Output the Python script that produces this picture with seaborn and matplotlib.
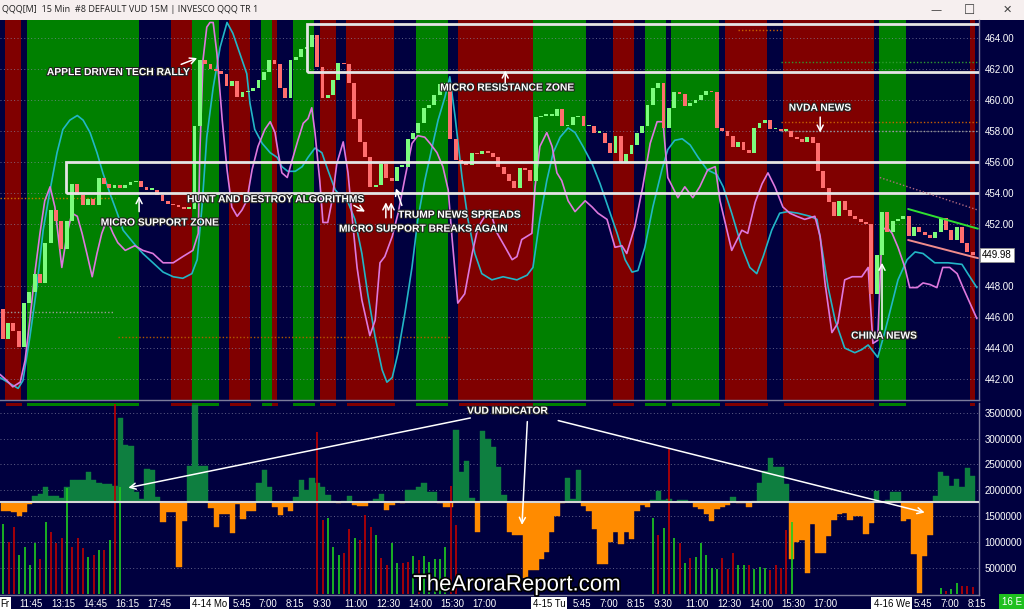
import numpy as np
import pandas as pd
import matplotlib
matplotlib.use("Agg")
import matplotlib.pyplot as plt
import matplotlib.transforms as mtrans
import matplotlib.patheffects as pe
from matplotlib.patches import Rectangle
import seaborn as sns

# ---------------- data ----------------
# 15-minute closes, one list per session
fri_close = [444.6, 445.6, 445.1, 444.1, 446.9, 447.6, 448.8, 448.2, 450.8, 452.9,
             452.2, 450.4, 452.2, 454.6, 453.9, 453.2, 453.6, 453.2, 455.0, 454.6,
             454.3, 454.5, 454.3, 454.5, 454.7, 454.8, 454.4, 454.2, 454.2, 453.9,
             453.5, 453.3, 453.2, 453.1, 453.0, 453.0]
mon_close = [458.3, 462.6, 462.3, 462.0, 461.9, 461.7, 460.9, 461.2, 460.2, 460.5,
             460.6, 460.8, 461.3, 461.8, 462.6, 462.3, 460.8, 460.1, 462.6, 462.8,
             463.3, 463.4, 464.2, 462.1, 460.1, 460.3, 461.3, 462.4, 462.3, 461.1,
             458.8, 457.3, 456.3, 454.4, 454.5, 455.9, 455.0, 454.8, 455.7, 455.7,
             457.5, 457.9, 458.5, 459.5, 459.7, 460.3, 461.0, 461.0, 457.5, 456.1,
             456.0, 455.8, 456.6, 456.5, 456.7, 456.6, 456.3, 455.7, 455.2, 454.8,
             454.3, 455.6, 455.5, 454.8]
tue_close = [458.9, 459.0, 459.0, 459.0, 459.4, 458.3, 458.4, 458.9, 459.0, 458.3,
             458.3, 457.9, 457.9, 457.2, 456.6, 457.7, 456.0, 456.5, 457.1, 457.9,
             458.3, 459.7, 460.8, 461.1, 458.2, 459.5, 460.5, 460.4, 459.6, 459.8,
             460.0, 460.3, 460.6, 460.5, 458.2, 458.0, 457.7, 457.0, 457.3, 456.8,
             456.6, 458.2, 458.5, 458.7, 458.1, 458.1, 458.0, 458.0, 457.6, 457.5,
             457.3, 457.6, 457.2, 455.4, 454.3, 453.4, 452.5, 453.5, 452.9, 452.5,
             452.3, 452.1, 452.0, 447.5]
wed_close = [450.0, 452.8, 451.5, 452.2, 452.3, 452.5, 451.2, 451.8, 451.5, 451.3,
             451.1, 451.5, 452.4, 451.6, 451.0, 451.8, 450.8, 450.2, 449.98]
first_open = 446.5
last_price = 449.98

# VUD indicator (millions)
fri_vud = [1.60, 1.60, 1.58, 1.50, 1.58, 1.73, 1.88, 1.92, 2.06, 1.88,
           1.89, 1.85, 2.06, 2.19, 2.19, 2.19, 2.35, 2.19, 2.15, 2.12,
           2.12, 2.08, 3.40, 2.88, 2.85, 1.96, 1.83, 2.42, 2.40, 1.87,
           1.38, 1.58, 1.58, 0.52, 1.40, 2.48]
mon_vud = [3.65, 2.48, 2.48, 1.65, 1.29, 1.54, 1.54, 1.17, 1.73, 1.44,
           1.60, 1.60, 2.15, 2.40, 2.06, 1.67, 1.52, 1.68, 1.60, 1.87,
           2.19, 2.00, 2.23, 2.15, 2.06, 1.90, 1.80, 1.76, 1.79, 1.88,
           1.72, 1.70, 1.70, 1.79, 1.83, 1.92, 1.62, 1.72, 1.80, 1.76,
           2.00, 2.00, 2.06, 2.15, 1.96, 1.96, 1.76, 1.67, 1.67, 3.17,
           2.35, 2.56, 1.86, 1.20, 3.15, 3.00, 2.83, 2.46, 1.90, 1.20,
           1.13, 1.13, 0.30, 0.45]
tue_vud = [0.45, 0.67, 0.81, 1.20, 1.50, 1.76, 2.23, 1.83, 2.40, 1.70,
           1.59, 1.25, 0.58, 0.58, 1.00, 1.19, 0.96, 1.20, 1.06, 1.60,
           1.71, 1.67, 1.81, 1.98, 1.82, 1.84, 1.77, 1.82, 1.81, 1.77,
           1.67, 1.63, 1.55, 1.40, 1.63, 1.67, 1.71, 1.87, 1.75, 1.75,
           1.67, 1.80, 2.15, 2.37, 2.63, 2.45, 2.45, 2.12, 0.67, 1.00,
           1.04, 0.40, 1.35, 0.78, 0.78, 1.12, 1.43, 1.54, 1.56, 1.43,
           1.50, 1.50, 1.15, 1.37]
wed_vud = [1.98, 1.77, 1.81, 1.96, 1.96, 1.40, 1.45, 0.77, 0.02, 0.73,
           1.13, 1.88, 2.35, 2.27, 2.08, 2.21, 2.06, 2.44, 2.27]
vud_base = 1.78

# volume spikes (bar index, millions, up?)
vol_idx = [0, 1, 2, 3, 4, 5, 6, 7, 8, 9, 10, 11, 12, 13, 14, 15, 16, 17, 18, 19, 20, 21, 22,
           59, 60, 61, 62, 63, 64, 65, 66, 67, 68, 69, 70, 71, 72, 73, 74, 75, 76, 77, 78,
           79, 80, 81, 82, 83, 84, 85,
           122, 123, 124, 125, 126, 127, 128, 129, 130, 131, 132, 133, 134, 135, 136, 137,
           138, 139, 140, 141, 142, 143, 144, 145, 146, 147, 148,
           176, 177, 178, 179, 180, 181, 182]
vol_val = [1.35, 1.00, 1.29, 0.75, 0.90, 0.56, 0.98, 0.67, 1.38, 1.19, 0.98, 1.08, 2.04,
           0.90, 1.08, 0.88, 0.71, 0.75, 0.85, 0.85, 1.04, 3.67, 2.06,
           3.12, 1.42, 1.46, 0.90, 0.75, 0.79, 1.25, 1.08, 1.04, 1.52, 1.29, 1.13, 0.69,
           0.56, 0.98, 0.60, 0.60, 0.62, 0.73, 0.65, 0.73, 0.62, 0.67, 0.67, 0.90, 2.08, 1.33,
           1.46, 1.13, 1.27, 2.80, 1.08, 0.98, 0.60, 0.69, 0.71, 0.98, 0.75, 0.50, 0.48,
           0.69, 0.48, 0.79, 0.56, 0.56, 0.56, 0.48, 0.52, 0.50, 0.46, 0.56, 0.50, 1.23, 1.38,
           0.10, 0.06, 0.08, 0.20, 0.15, 0.15, 0.12]
vol_up = [1, 0, 0, 1, 1, 1, 1, 0, 1, 0, 0, 0, 1, 0, 0, 0, 1, 0, 1, 0, 1, 0, 1,
          0, 0, 1, 1, 1, 0, 0, 1, 0, 0, 0, 1, 0, 0, 1, 1, 0, 0, 1, 0, 1, 1, 1, 1, 1, 0, 0,
          1, 0, 1, 0, 1, 0, 1, 0, 1, 1, 1, 1, 1, 0, 0, 0, 1, 1, 0, 1, 1, 1, 0, 0, 0, 0, 1,
          1, 0, 1, 1, 0, 0, 0]

# oscillators drawn over the price pane (bar position, value in price units)
mag_x = [-0.5, 0.8, 1.9, 3.3, 4.2, 5.1, 6.1, 7.0, 7.9, 8.9, 9.8, 11.1, 12.1, 13.0, 14.0,
         14.9, 15.8, 16.8, 17.7, 18.6, 19.6, 20.7, 21.6, 23.0, 24.8, 26.3, 28.2, 30.1,
         32.0, 33.8, 35.7, 36.7, 37.0, 37.6, 38.3, 38.9, 39.5, 40.2, 41.2, 42.1, 43.0,
         44.0, 44.9, 45.8, 46.8, 47.9, 49.2, 50.2, 51.1, 51.7, 52.4, 53.4, 54.3, 55.4,
         56.4, 57.3, 58.0, 58.6, 59.5, 60.1, 61.0, 61.8, 62.7, 63.9, 64.8, 65.5, 66.5,
         67.4, 68.9, 69.9, 70.8, 71.7, 73.1, 74.2, 75.5, 76.8, 77.9, 79.2, 80.2, 81.5,
         82.6, 83.6, 84.3, 85.4, 86.7, 88.1, 89.2, 90.5, 91.4, 92.8, 94.3, 95.6, 96.5,
         97.4, 99.3, 99.9, 100.8, 102.1, 103.1, 104.0, 104.9, 106.1, 107.4, 109.3, 110.6,
         111.7, 113.4, 114.9, 116.2, 117.1, 118.6, 120.1, 121.5, 122.8, 123.9, 124.8,
         126.7, 128.0, 129.5, 130.8, 132.3, 133.7, 134.6, 135.9, 136.8, 138.7, 139.8,
         141.2, 142.5, 143.6, 144.9, 146.4, 147.7, 149.0, 150.5, 152.4, 153.4, 154.3,
         155.6, 156.7, 158.0, 159.4, 161.2, 162.4, 163.3, 164.2, 165.0, 165.9, 166.9,
         168.0, 169.3, 170.2, 171.6, 172.7, 174.0, 175.3, 176.4, 177.7, 179.1, 180.2,
         181.5, 182.8]
mag_v = [442.3, 441.9, 441.5, 441.8, 443.2, 445.8, 449.0, 451.4, 453.5, 454.4, 453.1,
         449.2, 451.4, 452.7, 452.5, 451.4, 450.1, 448.6, 450.1, 451.4, 452.3, 451.4,
         450.8, 450.3, 450.6, 450.3, 450.1, 449.5, 449.5, 449.9, 450.3, 451.4, 456.6,
         462.6, 464.7, 465.0, 465.0, 463.0, 458.7, 455.5, 453.1, 452.5, 452.9, 453.5,
         455.5, 457.0, 458.1, 458.6, 457.9, 456.6, 455.3, 455.0, 456.1, 457.4, 458.5,
         458.8, 459.5, 457.9, 454.8, 452.1, 452.1, 453.5, 455.9, 457.3, 455.3, 452.7,
         449.2, 447.1, 444.8, 445.8, 449.5, 449.9, 451.2, 452.7, 455.0, 457.2, 457.7,
         457.6, 457.2, 456.6, 455.7, 454.2, 451.2, 446.9, 447.5, 450.1, 451.8, 452.5,
         452.9, 451.4, 450.5, 449.7, 449.9, 451.0, 451.4, 454.4, 457.0, 457.9, 457.0,
         455.3, 454.8, 453.5, 452.8, 453.5, 453.1, 452.7, 452.3, 450.5, 450.6, 450.1,
         451.8, 454.4, 457.2, 458.6, 458.6, 455.0, 453.7, 454.4, 453.7, 454.4, 455.5,
         455.7, 453.5, 451.6, 450.3, 451.6, 451.4, 453.4, 454.6, 455.3, 454.4, 453.1,
         452.7, 452.5, 452.3, 452.5, 451.2, 448.2, 445.0, 445.6, 448.4, 448.6, 448.6,
         449.2, 444.3, 444.5, 451.6, 451.8, 451.4, 450.5, 449.2, 447.9, 447.9, 448.2,
         448.1, 447.9, 449.2, 449.2, 448.8, 447.9, 446.9, 445.9]
cyan_x = [-0.5, 1.4, 2.9, 3.8, 5.1, 6.4, 7.6, 8.9, 10.2, 11.3, 12.6, 14.0, 15.1, 16.4,
          17.7, 18.8, 20.1, 21.5, 22.6, 24.5, 26.3, 28.2, 30.1, 32.0, 33.8, 35.5, 36.5,
          37.4, 38.3, 39.5, 40.8, 42.1, 43.2, 44.5, 45.8, 46.4, 47.3, 48.7, 50.2, 51.5,
          52.4, 53.5, 54.9, 56.2, 57.3, 58.6, 59.9, 61.0, 62.4, 63.7, 64.8, 66.1, 67.4,
          68.5, 69.9, 71.2, 72.1, 73.1, 74.2, 75.5, 76.8, 77.9, 79.2, 80.6, 81.7, 83.0,
          83.9, 84.9, 86.2, 87.3, 88.6, 89.9, 91.8, 93.9, 96.5, 98.4, 99.5, 100.8, 102.1,
          103.3, 104.6, 106.1, 107.4, 108.9, 110.6, 112.1, 113.6, 115.3, 116.8, 118.1,
          119.2, 120.5, 122.0, 123.7, 124.8, 126.1, 127.5, 129.0, 130.5, 132.2, 134.0,
          135.2, 136.8, 138.7, 140.2, 141.5, 142.7, 144.3, 145.8, 147.3, 149.2, 151.5,
          152.8, 153.7, 154.9, 156.2, 158.0, 159.9, 161.2, 162.4, 164.2, 165.5, 166.9,
          168.0, 169.7, 171.2, 172.7, 174.9, 177.4, 180.0, 181.1, 182.8]
cyan_v = [442.1, 441.7, 441.4, 441.9, 444.7, 447.9, 451.6, 454.2, 456.6, 458.1, 458.7,
          459.0, 458.7, 457.9, 456.6, 455.3, 454.0, 452.7, 451.6, 450.8, 450.1, 449.5,
          448.9, 448.6, 448.5, 448.8, 449.7, 453.1, 457.6, 460.8, 463.4, 465.0, 464.3,
          463.0, 461.7, 459.8, 458.1, 457.2, 456.6, 456.3, 455.7, 455.4, 455.4, 455.7,
          456.3, 456.9, 456.6, 455.5, 454.2, 453.7, 453.4, 452.3, 450.1, 447.5, 444.7,
          442.6, 441.8, 442.1, 443.7, 446.3, 449.2, 452.3, 454.8, 457.0, 458.7, 460.2,
          461.5, 458.9, 455.0, 452.3, 450.1, 448.8, 448.4, 448.6, 448.4, 448.7, 449.2,
          452.3, 454.8, 456.6, 457.6, 458.2, 457.9, 457.0, 455.9, 454.6, 453.1, 451.4,
          449.7, 448.9, 449.0, 450.5, 453.1, 455.5, 456.8, 457.4, 457.5, 457.1, 456.3,
          455.5, 455.2, 454.4, 452.7, 450.5, 449.2, 448.8, 449.9, 451.6, 452.7, 452.8,
          452.7, 452.5, 452.3, 450.5, 447.9, 445.8, 444.0, 443.7, 443.9, 444.2, 443.4,
          445.0, 446.9, 448.4, 449.7, 450.2, 450.1, 449.5, 449.5, 449.4, 448.8, 447.9]

# background regime bands: start bar and colour code (n=navy, r=red, g=green)
band_start = [0, 1, 4, 5, 26, 32, 36, 41, 43, 47, 49, 51, 52, 55, 59, 60, 63, 65, 74,
              78, 84, 86, 100, 110, 115, 119, 121, 125, 126, 135, 136, 144, 147, 164,
              165, 170, 182]
band_code = ['n', 'r', 'n', 'g', 'n', 'r', 'g', 'n', 'r', 'n', 'g', 'r', 'n', 'g', 'n',
             'r', 'n', 'r', 'n', 'g', 'n', 'r', 'g', 'n', 'r', 'n', 'g', 'n', 'g', 'n',
             'r', 'n', 'r', 'n', 'g', 'n', 'r']

# zones (price levels) and their left edges (bars)
support_zone = (454.0, 456.0)
support_left = 11.9
resist_zone = (461.8, 464.9)
resist_left = 57.1

# dotted reference levels: (from bar, to bar, price, colour)
levels = [(-0.5, 21.0, 453.7, '#c87800'), (-0.5, 20.7, 446.3, '#9a9a9a'),
          (21.6, 84.0, 444.7, '#b05a00'), (146.0, 183.0, 462.45, '#2e9a2e'),
          (146.0, 183.0, 458.6, '#c86000'), (146.0, 183.0, 458.0, '#9a9a9a'),
          (138.0, 146.0, 464.5, '#c86000')]

# late channel lines (bar, price)
chan_green = ([169.9, 183.0], [452.97, 451.7])
chan_pink = ([169.9, 183.0], [450.97, 449.8])
chan_dotted = ([164.6, 183.0], [455.0, 452.9])

price_ticks = [442, 444, 446, 448, 452, 454, 456, 458, 460, 462, 464]
vud_ticks = [500000, 1000000, 1500000, 2000000, 2500000, 3000000, 3500000]

session_start = {'Fr': '11:00', '4-14 Mo': '4:00', '4-15 Tu': '4:00', '4-16 We': '4:00'}
session_labels = {'Fr': ['11:45', '13:15', '14:45', '16:15', '17:45'],
                  '4-14 Mo': ['5:45', '7:00', '8:15', '9:30', '11:00', '12:30', '14:00', '15:30', '17:00'],
                  '4-15 Tu': ['5:45', '7:00', '8:15', '9:30', '11:00', '12:30', '14:00', '15:30', '17:00'],
                  '4-16 We': ['5:45', '7:00', '8:15']}

# ---------------- build ----------------
close = np.array(fri_close + mon_close + tue_close + wed_close)
N = len(close)
xb = np.arange(N)
opn = np.r_[first_open, close[:-1]]
vud = np.array(fri_vud + mon_vud + tue_vud + wed_vud) * 1e6
base = vud_base * 1e6
day_len = [len(fri_close), len(mon_close), len(tue_close), len(wed_close)]
day_start = np.r_[0, np.cumsum(day_len)[:-1]]

sns.set_theme(style="dark")
NARROW = ['Liberation Sans Narrow', 'Liberation Sans', 'DejaVu Sans']
plt.rcParams['font.family'] = NARROW

NAVY = '#00003f'
BAND = {'n': NAVY, 'r': '#800000', 'g': '#008000'}
W, H = 1024, 609
fig = plt.figure(figsize=(W / 100, H / 100), dpi=100, facecolor=NAVY)


def fy(y):
    return 1 - y / H


axp = fig.add_axes([0, fy(400), 979 / W, (400 - 20) / H])
axv = fig.add_axes([0, fy(595), 979 / W, (595 - 403) / H])
for ax in (axp, axv):
    ax.set_facecolor(NAVY)
    ax.set_xlim(-0.5, N - 0.5 + 0.7)
    for s in ('top', 'left'):
        ax.spines[s].set_visible(False)
    for s in ('right', 'bottom'):
        ax.spines[s].set_color('#7c7c9c')
        ax.spines[s].set_linewidth(1.0)

TICK_FS = 7.0

# --- price pane ---
axp.set_ylim(440.65, 465.16)
ends = band_start[1:] + [N]
for s, e, c in zip(band_start, ends, band_code):
    axp.axvspan(s - 0.5, e - 0.5, color=BAND[c], lw=0, zorder=0)

axp.set_yticks(price_ticks)
axp.set_yticklabels([f"{t:.2f}" for t in price_ticks])
axp.yaxis.tick_right()
axp.tick_params(axis='y', length=0, pad=4, labelsize=TICK_FS, labelcolor='white')
axp.set_xticks([])
axp.grid(axis='y', color='#8a8aa6', ls=(0, (1, 2.5)), lw=0.7, alpha=0.7)
axp.grid(axis='x', visible=False)
axp.set_axisbelow(False)

for x0, x1, p, c in levels:
    axp.hlines(p, x0, x1, colors=c, linestyles=(0, (1, 1.5)), lw=1.0, zorder=2)

sns.lineplot(x=cyan_x, y=cyan_v, ax=axp, color='#22b6c6', lw=1.2, estimator=None,
             sort=False, zorder=3)
sns.lineplot(x=mag_x, y=mag_v, ax=axp, color='#de78de', lw=1.2, estimator=None,
             sort=False, zorder=3)

up = close >= opn
body_lo = np.minimum(opn, close)
body_h = np.maximum(np.abs(close - opn), 0.1)
axp.bar(xb, body_h, bottom=body_lo, width=0.72,
        color=np.where(up, '#7dfc7d', '#ff6e6e'), lw=0, zorder=4)

axp.add_patch(Rectangle((support_left, support_zone[0]), N + 10, support_zone[1] - support_zone[0],
                        fill=False, ec='#e4e4e4', lw=2.0, zorder=5))
axp.add_patch(Rectangle((resist_left, resist_zone[0]), N + 10, resist_zone[1] - resist_zone[0],
                        fill=False, ec='#e4e4e4', lw=2.0, zorder=5))
axp.plot(*chan_green, color='#30e030', lw=1.4, zorder=5)
axp.plot(*chan_pink, color='#f08c8c', lw=1.4, zorder=5)
axp.plot(*chan_dotted, color='#b06a80', lw=1.0, ls=(0, (1, 1.5)), zorder=5)

tr = mtrans.blended_transform_factory(axp.transAxes, axp.transData)
axp.text(1.003, last_price, f"{last_price:.2f}", transform=tr, ha='left', va='center',
         fontsize=TICK_FS, color='black', zorder=10, clip_on=False,
         bbox=dict(boxstyle='square,pad=0.2', fc='white', ec='#909090', lw=0.6))

stroke = [pe.withStroke(linewidth=1.5, foreground='#222222')]
txt_kw = dict(color='white', fontsize=7.4, fontweight='bold', va='center', ha='left',
              zorder=9, path_effects=stroke)
arr_kw = dict(arrowstyle='->,head_length=0.35,head_width=0.18', color='white', lw=1.1,
              shrinkA=0, shrinkB=0)


def note(ax, text, tx, ty):
    ax.text(tx, ty, text, **txt_kw)


def arrow(ax, x0, y0, x1, y1):
    ax.annotate('', xy=(x1, y1), xytext=(x0, y0), arrowprops=arr_kw, zorder=9)


note(axp, 'APPLE DRIVEN TECH RALLY', 8.3, 461.8)
arrow(axp, 33.5, 462.3, 36.5, 462.7)
note(axp, 'MICRO SUPPORT ZONE', 18.4, 452.1)
arrow(axp, 25.6, 452.8, 25.6, 453.8)
note(axp, 'HUNT AND DESTROY ALGORITHMS', 34.6, 453.6)
arrow(axp, 65.9, 453.2, 68.0, 452.8)
note(axp, 'TRUMP NEWS SPREADS', 74.2, 452.6)
arrow(axp, 74.9, 453.2, 73.8, 454.3)
note(axp, 'MICRO SUPPORT BREAKS AGAIN', 63.1, 451.7)
arrow(axp, 71.9, 452.4, 71.9, 453.4)
arrow(axp, 72.9, 452.4, 72.9, 453.4)
note(axp, 'MICRO RESISTANCE ZONE', 82.1, 460.8)
arrow(axp, 94.3, 461.1, 94.3, 461.9)
note(axp, 'NVDA NEWS', 147.5, 459.5)
arrow(axp, 153.4, 458.9, 153.4, 457.9)
note(axp, 'CHINA NEWS', 159.2, 444.8)
arrow(axp, 165.0, 445.2, 165.0, 449.5)

# --- VUD pane ---
axv.set_ylim(-27000, 3690000)
axv.set_yticks(vud_ticks)
axv.set_yticklabels([str(t) for t in vud_ticks])
axv.yaxis.tick_right()
axv.tick_params(axis='y', length=0, pad=4, labelsize=TICK_FS, labelcolor='white')
axv.grid(axis='y', color='#8a8aa6', ls=(0, (1, 2.5)), lw=0.7, alpha=0.7)
axv.grid(axis='x', visible=False)

for s, e, c in zip(band_start, ends, band_code):
    if c != 'n':
        axv.axvspan(s - 0.5, e - 0.5, ymin=0.982, ymax=1.0, color=BAND[c], lw=0, zorder=1)

pos = vud >= base
axv.bar(xb, vud - base, bottom=base, width=1.0,
        color=np.where(pos, '#0e7f40', '#ff8b00'),
        edgecolor=np.where(pos, '#0e7f40', '#ff8b00'), lw=0.3, zorder=2)
vcol = ['#1fcf1f' if u else '#c00000' for u in vol_up]
axv.vlines(vol_idx, 0, np.array(vol_val) * 1e6, colors=vcol, lw=1.2, zorder=3)
axv.axhline(base, color='#d6d6d6', lw=1.5, zorder=4)

note(axv, 'VUD INDICATOR', 87.1, 3540000)
arrow(axv, 87.7, 3400000, 23.5, 2050000)
arrow(axv, 98.4, 3330000, 97.4, 1330000)
arrow(axv, 104.2, 3350000, 173.0, 1570000)

# x tick labels from session times
tick_pos, tick_lab = [], []
for d0, (day, labs) in zip(day_start, session_labels.items()):
    h0, m0 = map(int, session_start[day].split(':'))
    tick_pos.append(d0 - 0.6)
    tick_lab.append(day)
    for lab in labs:
        h, m = map(int, lab.split(':'))
        tick_pos.append(d0 + ((h * 60 + m) - (h0 * 60 + m0)) / 15)
        tick_lab.append(lab)
axv.set_xticks(tick_pos)
axv.set_xticklabels(tick_lab, ha='left')
axv.tick_params(axis='x', length=0, pad=3, labelsize=6.9, labelcolor='white')
for lbl in axv.get_xticklabels():
    if lbl.get_text() in session_start:
        lbl.set_color('black')
        lbl.set_bbox(dict(boxstyle='square,pad=0.22', fc='white', ec='none'))

# --- chrome ---
fig.add_artist(Rectangle((0, fy(20)), 1, 20 / H, transform=fig.transFigure,
                         fc='#f6efef', ec='none', zorder=0))
fig.text(2 / W, fy(10), 'QQQ[M]  15 Min  #8 DEFAULT VUD 15M | INVESCO QQQ TR 1',
         fontsize=6.5, color='#202020', va='center', ha='left',
         family=['Open Sans', 'Noto Sans', 'DejaVu Sans'])
fig.text(936 / W, fy(10), '\u2014', fontsize=8, color='#404040', va='center', ha='center',
         family=['DejaVu Sans'])
fig.text(970 / W, fy(10), '\u2610', fontsize=9, color='#404040', va='center', ha='center',
         family=['DejaVu Sans'])
fig.text(1007 / W, fy(10), '\u2715', fontsize=8, color='#404040', va='center', ha='center',
         family=['DejaVu Sans'])
fig.text(1012 / W, fy(602), '16 E', fontsize=7.0, color='white', va='center', ha='center',
         bbox=dict(boxstyle='square,pad=0.35', fc='#1fc01f', ec='none'))
fig.text(517 / W, fy(585), 'TheAroraReport.com', fontsize=16, color='white',
         va='center', ha='center', family=['Liberation Sans', 'DejaVu Sans'], zorder=20,
         path_effects=[pe.withStroke(linewidth=2.5, foreground='black')])

fig.savefig('out.png', dpi=100, facecolor=NAVY)
